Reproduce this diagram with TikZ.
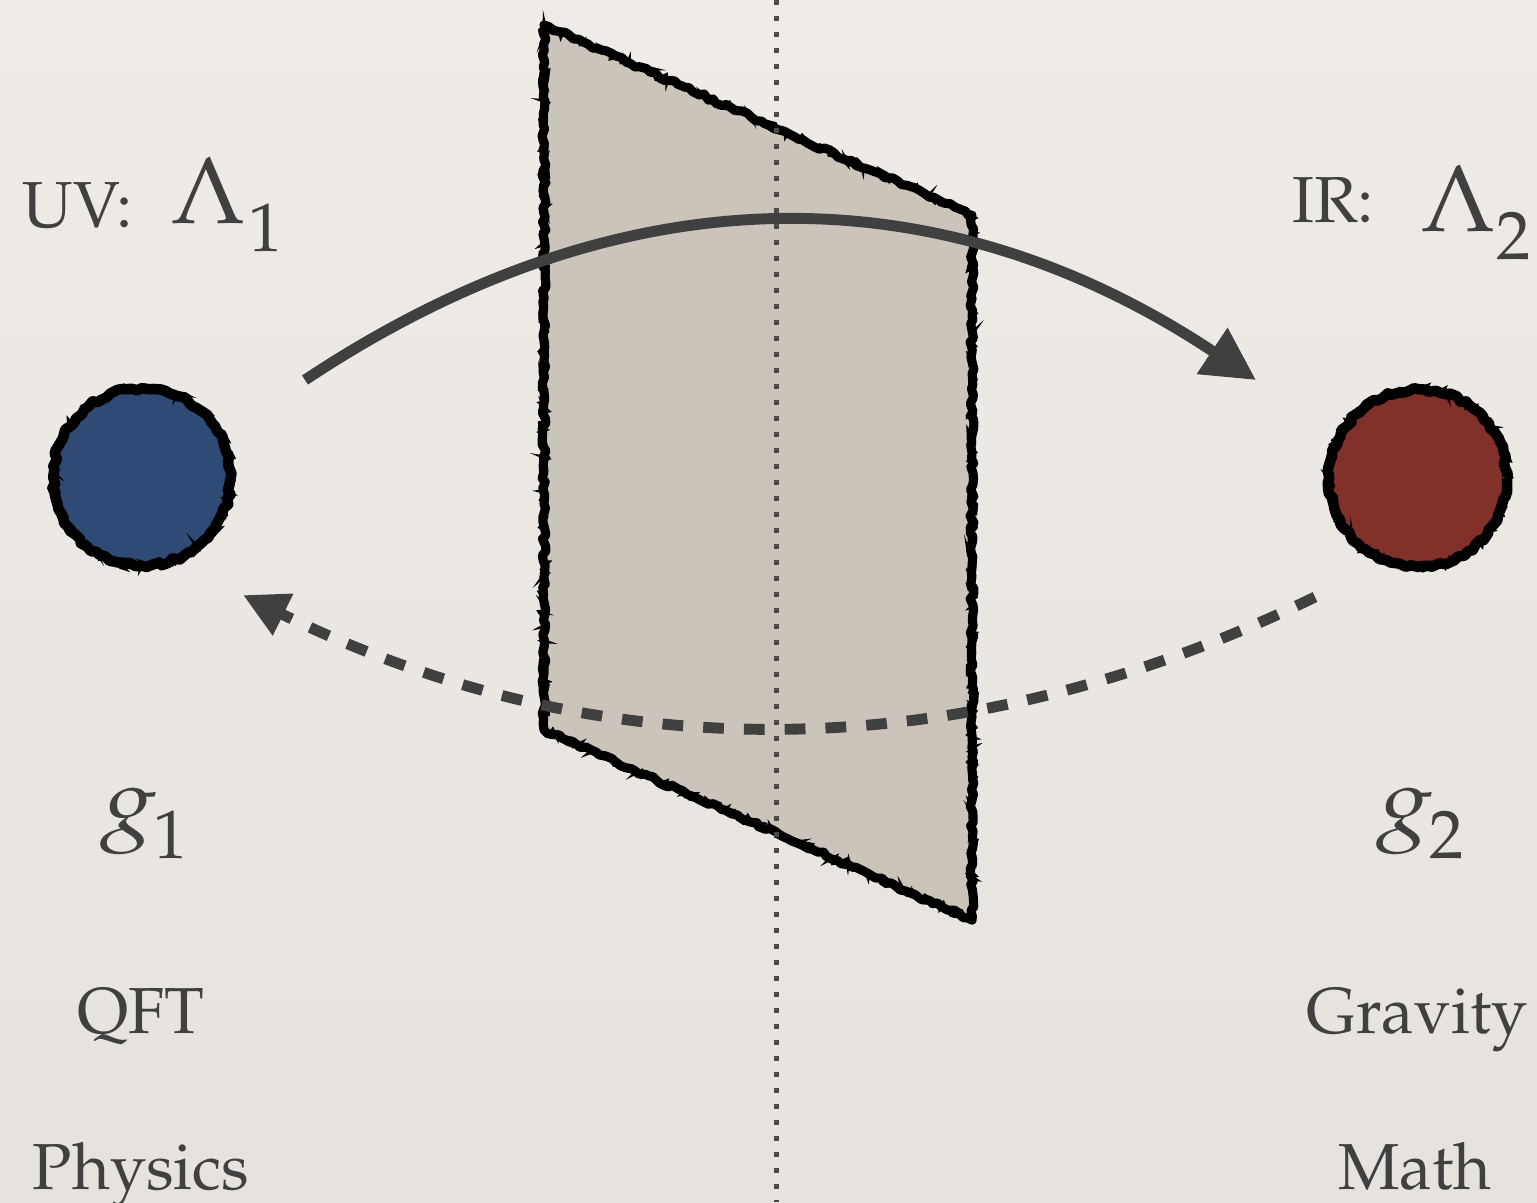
\documentclass[tikz,border=0pt]{standalone}
\usepackage[T1]{fontenc}
\usepackage{mathpazo}
\usepackage{graphicx}
\usetikzlibrary{arrows.meta,decorations.pathmorphing}

\definecolor{papertop}{HTML}{EFECE7}
\definecolor{paperbot}{HTML}{E6E3DE}
\definecolor{planefill}{HTML}{CAC4BB}
\definecolor{ink}{HTML}{404040}
\definecolor{dotink}{HTML}{4A4A4A}
\definecolor{uvblue}{HTML}{2F4A74}
\definecolor{irred}{HTML}{82302A}

% symbol (size, horizontal stretch) with a lowered, fairly large index
\newcommand\bigsub[5]{\scalebox{#2}[1]{\fontsize{#1}{#1}\selectfont$#3$}\kern#4\raisebox{-8pt}{\fontsize{19.5}{24}\selectfont #5}}

\begin{document}
\pgfmathsetseed{7}
\begin{tikzpicture}[x=0.01cm,y=-0.01cm,
  lbl/.style={text=ink, inner sep=0pt, anchor=base},
  lblw/.style={text=ink, inner sep=0pt, anchor=base west},
  small/.style={font=\fontsize{18.5}{22}\selectfont},
  ball/.style={circle, inner sep=0pt, minimum size=1.78cm},
  rough/.style={draw=black, line width=2.6pt, line join=round,
    decorate, decoration={random steps, segment length=1.5pt, amplitude=0.55pt}},
  fringe/.style={draw=black, line width=0.8pt,
    decorate, decoration={random steps, segment length=1pt, amplitude=1.4pt}},
  flow/.style={draw=ink, line width=3.1pt},
  solidtip/.style={-{Triangle[length=15pt,width=15pt]}},
  dashtip/.style={-{Triangle[length=12.7pt,width=12.4pt]}},
  axis/.style={draw=dotink, line width=1.42pt, dash pattern=on 1.42pt off 3.13pt}
]
% paper background
\shade[top color=papertop, bottom color=paperbot] (0,0) rectangle (1537,1202);
\useasboundingbox (0,0) rectangle (1537,1202);

% tilted plane
\coordinate (p1) at (544,25);
\coordinate (p2) at (972,215);
\coordinate (p3) at (972,920);
\coordinate (p4) at (544,730);
\fill[planefill] (p1) -- (p2) -- (p3) -- (p4) -- cycle;
\path[rough] (p1) -- (p2) -- (p3) -- (p4) -- cycle;
\path[fringe] (p1) -- (p2) -- (p3) -- (p4) -- cycle;

% vertical dotted axis
\coordinate (axtop) at (776,0);
\coordinate (axbot) at (776,1202);
\path[axis] (axtop) -- (axbot);

% flow from UV to IR
\coordinate (s1) at (305,380);
\coordinate (e1) at (1256,380);
\draw[flow, solidtip] (s1) .. controls (621.7,169.3) and (938.7,169.3) .. (e1);

% flow back from IR to UV
\coordinate (s2) at (1315,597);
\coordinate (e2) at (243,595);
\draw[flow, dashtip, dash pattern=on 5.9pt off 5.7pt] (s2) .. controls (957.7,771) and (600.3,770.3) .. (e2);

% the two points
\node[ball, fill=uvblue] (uv) at (142,477) {};
\node[ball, fill=irred] (ir) at (1418,478) {};
\path[rough, line width=3pt] (uv.center) circle[radius=0.885cm];
\path[fringe] (uv.center) circle[radius=0.89cm];
\path[rough, line width=3pt] (ir.center) circle[radius=0.885cm];
\path[fringe] (ir.center) circle[radius=0.89cm];

% scale labels
\node[lbl, small] (uvlab) at (78,227) {UV:};
\node[lblw] (lam1) at (170,223) {\bigsub{27}{1}{\Lambda}{0.5pt}{1}};
\node[lbl, small] (irlab) at (1333,222) {IR:};
\node[lblw] (lam2) at (1420,231) {\bigsub{27}{1}{\Lambda}{0pt}{2}};

% couplings
\node[lblw] (g1) at (100,830) {\bigsub{25}{1.18}{g}{-1pt}{1}};
\node[lblw] (g2) at (1376,830) {\bigsub{25}{1.18}{g}{-1pt}{2}};

% descriptions
\node[lbl, small] (qft) at (141,1033) {QFT};
\node[lbl, small] (grav) at (1417,1033) {Gravity};
\node[lbl, small] (phys) at (141,1189) {Physics};
\node[lbl, small] (math) at (1415,1189) {Math};
\end{tikzpicture}
\end{document}
